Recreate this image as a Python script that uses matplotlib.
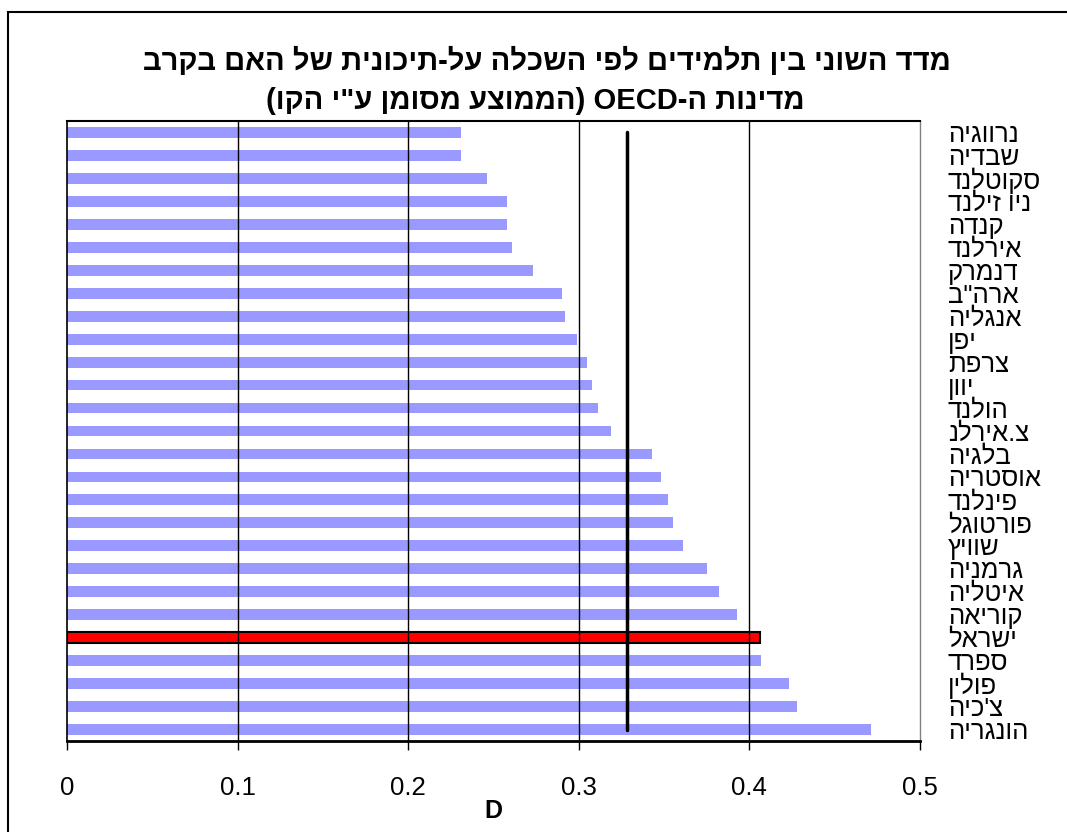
import re
import matplotlib
matplotlib.use("Agg")
import matplotlib.pyplot as plt
from matplotlib.patches import Rectangle

plt.rcParams['font.family'] = ['Liberation Sans', 'DejaVu Sans']

# Countries, top to bottom
countries = ["נרווגיה", "שבדיה", "סקוטלנד", "ניו זילנד", "קנדה", "אירלנד", "דנמרק",
             "ארה\"ב", "אנגליה", "יפן", "צרפת", "יוון", "הולנד", "צ.אירלנ",
             "בלגיה", "אוסטריה", "פינלנד", "פורטוגל", "שוויץ", "גרמניה", "איטליה",
             "קוריאה", "ישראל", "ספרד", "פולין", "צ'כיה", "הונגריה"]
d_values = [0.231, 0.231, 0.246, 0.258, 0.258, 0.261, 0.273,
            0.290, 0.292, 0.299, 0.305, 0.308, 0.311, 0.319,
            0.343, 0.348, 0.352, 0.355, 0.361, 0.375, 0.382,
            0.393, 0.406, 0.407, 0.423, 0.428, 0.471]
oecd_mean = 0.328
highlight = "ישראל"
x_ticks = [0, 0.1, 0.2, 0.3, 0.4, 0.5]
x_ticklabels = ["0", "0.1", "0.2", "0.3", "0.4", "0.5"]
title_lines = ["מדד השוני בין תלמידים לפי השכלה על-תיכונית של האם בקרב",
               "מדינות ה-OECD (הממוצע מסומן ע\"י הקו)"]
x_label = "D"


def rtl(text):
    """Visual (left-to-right) order for a right-to-left string."""
    mirror = {'(': ')', ')': '('}
    rev = ''.join(mirror.get(c, c) for c in text[::-1])
    return re.sub(r'[A-Za-z0-9]+', lambda m: m.group(0)[::-1], rev)


W, H = 1067, 832
fig = plt.figure(figsize=(W / 100, H / 100), dpi=100)
ax = fig.add_axes([67 / W, 1 - 741 / H, (920 - 67) / W, (741 - 121) / H])

n = len(countries)
ypos = list(range(n))
colors = ['#FF0000' if c == highlight else '#9999FF' for c in countries]
edges = ['#000000' if c == highlight else 'none' for c in countries]
lws = [1.5 if c == highlight else 0 for c in countries]
ax.barh(ypos, d_values, height=0.47, color=colors, edgecolor=edges,
        linewidth=lws, zorder=2)

# vertical gridlines
for t in x_ticks[1:-1]:
    ax.axvline(t, color='black', lw=1.0, zorder=3)

# OECD average line
ax.plot([oecd_mean, oecd_mean], [0, n - 1], color='black', lw=2.5,
        solid_capstyle='round', zorder=4)

ax.set_xlim(0, 0.5)
ax.set_ylim(n - 0.5, -0.5)
ax.set_xticks(x_ticks)
ax.set_xticklabels(x_ticklabels, fontsize=18.5)
ax.tick_params(axis='x', direction='out', length=6.5, width=1, pad=19)
ax.set_xlabel(x_label, fontsize=18, fontweight='bold', labelpad=-1)

ax.yaxis.tick_right()
ax.set_yticks(ypos)
ax.set_yticklabels([rtl(c) for c in countries], fontsize=18.5, ha='left')
ax.tick_params(axis='y', length=0, pad=20)

for side in ['left', 'top', 'bottom']:
    ax.spines[side].set_color('black')
ax.spines['left'].set_linewidth(1.2)
ax.spines['top'].set_linewidth(1.5)
ax.spines['bottom'].set_linewidth(2)
ax.spines['right'].set_color('#808080')
ax.spines['right'].set_linewidth(1)

fig.text(547 / W, 1 - 61 / H, rtl(title_lines[0]), ha='center', va='center',
         fontsize=21, fontweight='bold')
fig.text(535 / W, 1 - 101 / H, rtl(title_lines[1]), ha='center', va='center',
         fontsize=21, fontweight='bold')

# outer chart border
fig.patches.append(Rectangle((8 / W, -0.05), 1.0, 1 - 12 / H + 0.05,
                             transform=fig.transFigure, fill=False,
                             edgecolor='black', linewidth=1.5))

fig.savefig("out.png", dpi=100)
